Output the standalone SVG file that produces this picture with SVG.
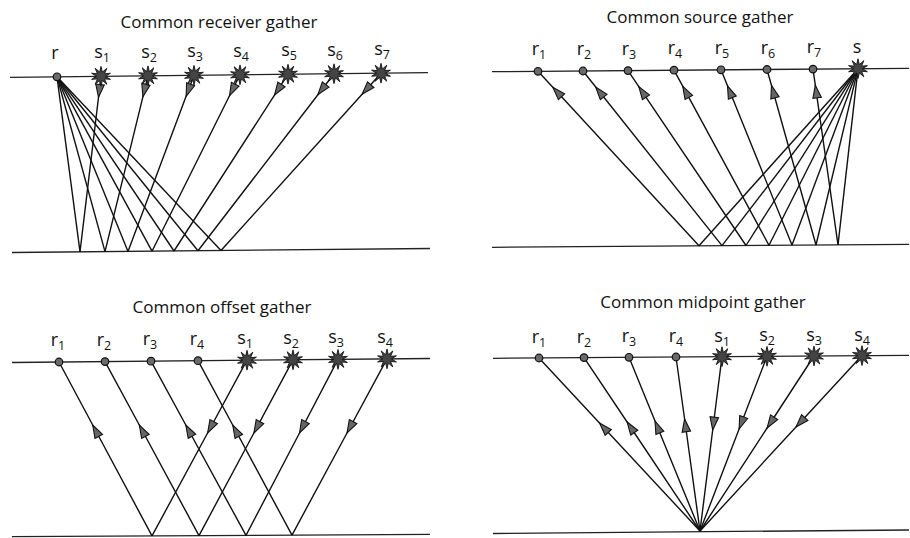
<svg xmlns="http://www.w3.org/2000/svg" xmlns:xlink="http://www.w3.org/1999/xlink" width="910" height="538" viewBox="0 0 910 538">
<style>
.title{font-family:"Open Sans","Noto Sans","Liberation Sans",sans-serif;font-size:17px;fill:#111;text-anchor:middle}
.lbl{font-family:"Open Sans","Noto Sans","Liberation Sans",sans-serif;font-size:18px;fill:#111;text-anchor:middle}
.sub{font-size:12.5px}
.surf{stroke:#222;stroke-width:1.3;fill:none}
.ray{stroke:#111;stroke-width:1.4;fill:none}
.arr{stroke:#111;stroke-width:1.4;fill:none;marker-mid:url(#ah)}
.rcv{fill:#6a6a6a;stroke:#111;stroke-width:1.2}
.src{fill:#444;stroke:#111;stroke-width:0.8}
</style>
<defs>
<marker id="ah" markerUnits="userSpaceOnUse" markerWidth="15" markerHeight="11" viewBox="-1 -1 14 10" refX="12" refY="4" orient="auto" overflow="visible">
<path d="M0,0 L12,4 L0,8 Z" fill="#666" stroke="#111" stroke-width="1"/>
</marker>
<path id="star" transform="scale(1.1)" d="M4,0 L8.56,2.78 L3.24,2.35 L5.29,7.28 L1.24,3.8 L0,9 L-1.24,3.8 L-5.29,7.28 L-3.24,2.35 L-8.56,2.78 L-4,0 L-8.56,-2.78 L-3.24,-2.35 L-5.29,-7.28 L-1.24,-3.8 L0,-9 L1.24,-3.8 L5.29,-7.28 L3.24,-2.35 L8.56,-2.78 Z"/>
</defs>
<rect width="910" height="538" fill="#fff"/>

<!-- Titles -->
<text class="title" x="219" y="28">Common receiver gather</text>
<text class="title" x="700" y="23">Common source gather</text>
<text class="title" x="222" y="313">Common offset gather</text>
<text class="title" x="703" y="308">Common midpoint gather</text>

<!-- Interfaces -->
<g id="interfaces">
<line class="surf" x1="10" y1="77.3" x2="428" y2="72.7"/>
<line class="surf" x1="12" y1="252.5" x2="430" y2="248.5"/>
<line class="surf" x1="492" y1="71.7" x2="909" y2="68.3"/>
<line class="surf" x1="492" y1="247.3" x2="909" y2="244.3"/>
<line class="surf" x1="12" y1="362.5" x2="430" y2="358.5"/>
<line class="surf" x1="12" y1="536.7" x2="430" y2="534.3"/>
<line class="surf" x1="493" y1="358.3" x2="909" y2="355.3"/>
<line class="surf" x1="493" y1="533.5" x2="909" y2="530"/>
</g>

<g id="connectors">
<!-- Panel 1: common receiver -->
<line class="ray" x1="57" y1="76.8" x2="80" y2="251.9"/>
<line class="ray" x1="57" y1="76.8" x2="105" y2="251.6"/>
<line class="ray" x1="57" y1="76.8" x2="128" y2="251.4"/>
<line class="ray" x1="57" y1="76.8" x2="152" y2="251.2"/>
<line class="ray" x1="57" y1="76.8" x2="174" y2="251.0"/>
<line class="ray" x1="57" y1="76.8" x2="198" y2="250.7"/>
<line class="ray" x1="57" y1="76.8" x2="221" y2="250.5"/>
<polyline class="arr" points="101,76.3 98.5,97.3 80,251.9"/>
<polyline class="arr" points="148,75.8 142.9,96.8 105,251.6"/>
<polyline class="arr" points="194,75.3 186.1,96.3 128,251.4"/>
<polyline class="arr" points="240,74.8 229.5,95.8 152,251.2"/>
<polyline class="arr" points="288,74.2 274.5,95.2 174,251.0"/>
<polyline class="arr" points="334,73.7 317.9,94.7 198,250.7"/>
<polyline class="arr" points="381,73.2 362.1,94.2 221,250.5"/>

<!-- Panel 2: common source -->
<line class="ray" x1="858" y1="68.7" x2="699" y2="245.8"/>
<line class="ray" x1="858" y1="68.7" x2="722" y2="245.6"/>
<line class="ray" x1="858" y1="68.7" x2="746" y2="245.5"/>
<line class="ray" x1="858" y1="68.7" x2="769" y2="245.3"/>
<line class="ray" x1="858" y1="68.7" x2="792" y2="245.1"/>
<line class="ray" x1="858" y1="68.7" x2="816" y2="245.0"/>
<line class="ray" x1="858" y1="68.7" x2="838" y2="244.8"/>
<polyline class="arr" points="699,245.8 552.8,87.3 538,71.3"/>
<polyline class="arr" points="722,245.6 595.7,87.0 583,71.0"/>
<polyline class="arr" points="746,245.5 638.8,86.6 628,70.6"/>
<polyline class="arr" points="769,245.3 682.7,86.2 674,70.2"/>
<polyline class="arr" points="792,245.1 727.5,85.8 721,69.8"/>
<polyline class="arr" points="816,245.0 771.5,85.5 767,69.5"/>
<polyline class="arr" points="838,244.8 815.3,85.1 813,69.1"/>

<!-- Panel 3: common offset -->
<polyline class="arr" points="152,535.9 92.7,425 59,362.0"/>
<polyline class="arr" points="199,535.6 139.3,425 105,361.6"/>
<polyline class="arr" points="246,535.4 185.8,425 151,361.2"/>
<polyline class="arr" points="292,535.1 232.7,425 198,360.7"/>
<polyline class="arr" points="247,360.2 207.6,433 152,535.9"/>
<polyline class="arr" points="293,359.8 253.9,433 199,535.6"/>
<polyline class="arr" points="338,359.4 299.5,433 246,535.4"/>
<polyline class="arr" points="387,358.9 347.0,433 292,535.1"/>

<!-- Panel 4: common midpoint -->
<polyline class="arr" points="700,531 599.5,423 539,358.0"/>
<polyline class="arr" points="700,531 627.1,422 584,357.6"/>
<polyline class="arr" points="700,531 655.0,421 629,357.3"/>
<polyline class="arr" points="700,531 684.6,419 676,357.0"/>
<polyline class="arr" points="722,356.7 712.7,430 700,531"/>
<polyline class="arr" points="767,356.3 739.1,429 700,531"/>
<polyline class="arr" points="814,356.0 767.1,428 700,531"/>
<polyline class="arr" points="862,355.6 796.0,427 700,531"/>
</g>

<!-- Panel 1 nodes -->
<g id="p1-r"><circle class="rcv" cx="57" cy="76.8" r="3.8"/><text class="lbl" x="55" y="58.5">r</text></g>
<g id="p1-s1"><use href="#star" class="src" x="101" y="76.3"/><text class="lbl" x="102" y="58.3">s<tspan class="sub" dy="4">1</tspan></text></g>
<g id="p1-s2"><use href="#star" class="src" x="148" y="75.8"/><text class="lbl" x="149" y="57.8">s<tspan class="sub" dy="4">2</tspan></text></g>
<g id="p1-s3"><use href="#star" class="src" x="194" y="75.3"/><text class="lbl" x="195" y="57.3">s<tspan class="sub" dy="4">3</tspan></text></g>
<g id="p1-s4"><use href="#star" class="src" x="240" y="74.8"/><text class="lbl" x="241" y="56.8">s<tspan class="sub" dy="4">4</tspan></text></g>
<g id="p1-s5"><use href="#star" class="src" x="288" y="74.2"/><text class="lbl" x="289" y="56.2">s<tspan class="sub" dy="4">5</tspan></text></g>
<g id="p1-s6"><use href="#star" class="src" x="334" y="73.7"/><text class="lbl" x="335" y="55.7">s<tspan class="sub" dy="4">6</tspan></text></g>
<g id="p1-s7"><use href="#star" class="src" x="381" y="73.2"/><text class="lbl" x="382" y="55.2">s<tspan class="sub" dy="4">7</tspan></text></g>

<!-- Panel 2 nodes -->
<g id="p2-r1"><circle class="rcv" cx="538" cy="71.3" r="3.8"/><text class="lbl" x="539" y="55.3">r<tspan class="sub" dy="4">1</tspan></text></g>
<g id="p2-r2"><circle class="rcv" cx="583" cy="71.0" r="3.8"/><text class="lbl" x="584" y="55.0">r<tspan class="sub" dy="4">2</tspan></text></g>
<g id="p2-r3"><circle class="rcv" cx="628" cy="70.6" r="3.8"/><text class="lbl" x="629" y="54.6">r<tspan class="sub" dy="4">3</tspan></text></g>
<g id="p2-r4"><circle class="rcv" cx="674" cy="70.2" r="3.8"/><text class="lbl" x="675" y="54.2">r<tspan class="sub" dy="4">4</tspan></text></g>
<g id="p2-r5"><circle class="rcv" cx="721" cy="69.8" r="3.8"/><text class="lbl" x="722" y="53.8">r<tspan class="sub" dy="4">5</tspan></text></g>
<g id="p2-r6"><circle class="rcv" cx="767" cy="69.5" r="3.8"/><text class="lbl" x="768" y="53.5">r<tspan class="sub" dy="4">6</tspan></text></g>
<g id="p2-r7"><circle class="rcv" cx="813" cy="69.1" r="3.8"/><text class="lbl" x="814" y="53.1">r<tspan class="sub" dy="4">7</tspan></text></g>
<g id="p2-s"><use href="#star" class="src" x="858" y="68.7"/><text class="lbl" x="857" y="52.7">s</text></g>

<!-- Panel 3 nodes -->
<g id="p3-r1"><circle class="rcv" cx="59" cy="362.0" r="3.8"/><text class="lbl" x="58" y="346.0">r<tspan class="sub" dy="4">1</tspan></text></g>
<g id="p3-r2"><circle class="rcv" cx="105" cy="361.6" r="3.8"/><text class="lbl" x="104" y="345.6">r<tspan class="sub" dy="4">2</tspan></text></g>
<g id="p3-r3"><circle class="rcv" cx="151" cy="361.2" r="3.8"/><text class="lbl" x="150" y="345.2">r<tspan class="sub" dy="4">3</tspan></text></g>
<g id="p3-r4"><circle class="rcv" cx="198" cy="360.7" r="3.8"/><text class="lbl" x="197" y="344.7">r<tspan class="sub" dy="4">4</tspan></text></g>
<g id="p3-s1"><use href="#star" class="src" x="247" y="360.2"/><text class="lbl" x="245" y="344.2">s<tspan class="sub" dy="4">1</tspan></text></g>
<g id="p3-s2"><use href="#star" class="src" x="293" y="359.8"/><text class="lbl" x="291" y="343.8">s<tspan class="sub" dy="4">2</tspan></text></g>
<g id="p3-s3"><use href="#star" class="src" x="338" y="359.4"/><text class="lbl" x="336" y="343.4">s<tspan class="sub" dy="4">3</tspan></text></g>
<g id="p3-s4"><use href="#star" class="src" x="387" y="358.9"/><text class="lbl" x="385" y="342.9">s<tspan class="sub" dy="4">4</tspan></text></g>

<!-- Panel 4 nodes -->
<g id="p4-r1"><circle class="rcv" cx="539" cy="358.0" r="3.8"/><text class="lbl" x="539" y="343.0">r<tspan class="sub" dy="4">1</tspan></text></g>
<g id="p4-r2"><circle class="rcv" cx="584" cy="357.6" r="3.8"/><text class="lbl" x="584" y="342.6">r<tspan class="sub" dy="4">2</tspan></text></g>
<g id="p4-r3"><circle class="rcv" cx="629" cy="357.3" r="3.8"/><text class="lbl" x="629" y="342.3">r<tspan class="sub" dy="4">3</tspan></text></g>
<g id="p4-r4"><circle class="rcv" cx="676" cy="357.0" r="3.8"/><text class="lbl" x="676" y="342.0">r<tspan class="sub" dy="4">4</tspan></text></g>
<g id="p4-s1"><use href="#star" class="src" x="722" y="356.7"/><text class="lbl" x="722" y="341.7">s<tspan class="sub" dy="4">1</tspan></text></g>
<g id="p4-s2"><use href="#star" class="src" x="767" y="356.3"/><text class="lbl" x="767" y="341.3">s<tspan class="sub" dy="4">2</tspan></text></g>
<g id="p4-s3"><use href="#star" class="src" x="814" y="356.0"/><text class="lbl" x="814" y="341.0">s<tspan class="sub" dy="4">3</tspan></text></g>
<g id="p4-s4"><use href="#star" class="src" x="862" y="355.6"/><text class="lbl" x="862" y="340.6">s<tspan class="sub" dy="4">4</tspan></text></g>
</svg>
